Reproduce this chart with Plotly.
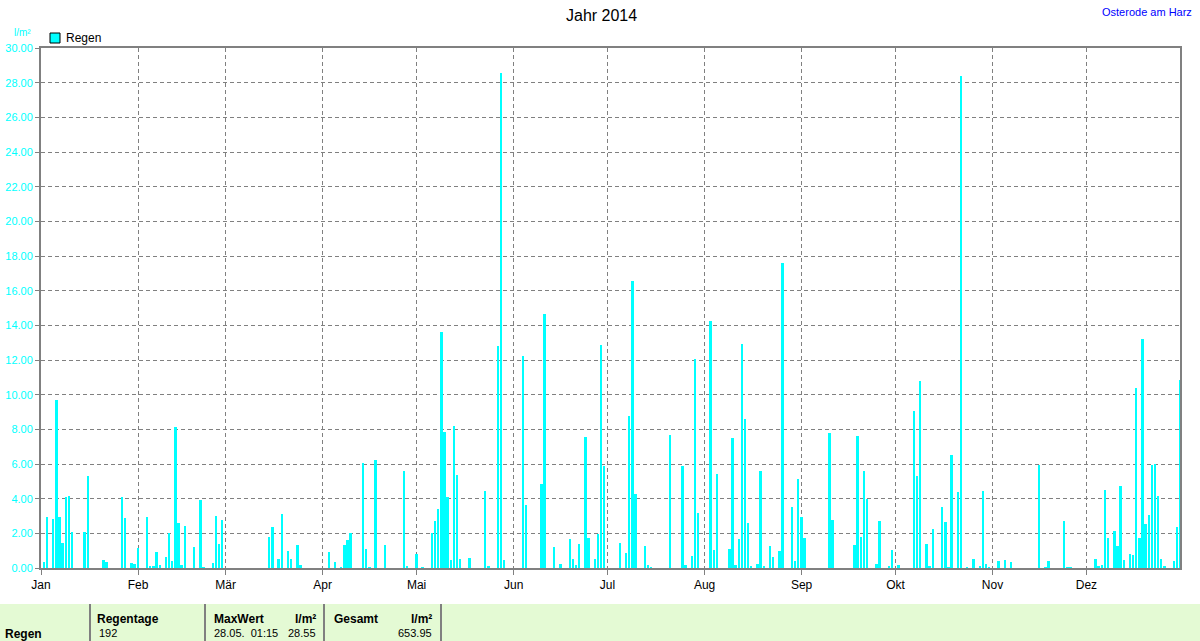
import plotly.graph_objects as go

# ---------------- data (daily rain, l/m², 2014) ----------------
months = ["Jan", "Feb", "Mär", "Apr", "Mai", "Jun", "Jul", "Aug", "Sep", "Okt", "Nov", "Dez"]

jan = [0.33, 2.92, 0, 2.81, 9.67, 2.92, 1.42, 4.08, 4.13, 2.06,
       0, 0, 0, 2.06, 5.29, 0, 0, 0, 0, 0.44,
       0.33, 0, 0, 0, 0, 4.08, 2.87, 0, 0.27, 0.21,
       1.13]
feb = [0, 0, 2.92, 0.1, 0.1, 0.9, 0.15, 0, 0.62, 2.0,
       0.38, 8.12, 2.58, 0.15, 2.4, 0, 0, 1.19, 0, 3.9,
       0.05, 0, 0, 0.27, 2.98, 1.37, 2.75, 0]
mar = [0, 0, 0, 0, 0, 0, 0, 0, 0, 0,
       0, 0, 0, 1.77, 2.35, 0, 0.5, 3.1, 0, 0.96,
       0.5, 0, 1.31, 0.15, 0, 0, 0, 0, 0, 0,
       0]
apr = [0, 0.9, 0, 0.33, 0, 0.05, 1.31, 1.6, 2.0, 0,
       0, 0, 6.04, 1.08, 0.05, 0, 6.21, 0, 0, 1.31,
       0, 0, 0, 0, 0, 5.62, 0.13, 0, 0, 0.83]
mai = [0, 0.05, 0, 0, 2.04, 2.73, 3.42, 13.63, 7.87, 4.12,
       0.48, 8.21, 5.38, 0.54, 0, 0, 0.6, 0, 0, 0,
       0, 4.46, 0.08, 0, 0, 12.83, 28.55, 0.48, 0, 0,
       0]
jun = [0, 0, 12.25, 3.65, 0, 0, 0, 0, 4.87, 14.67,
       0, 0, 1.23, 0, 0.25, 0, 0, 1.69, 0.54, 0.19,
       1.4, 0, 7.58, 1.75, 0, 0.54, 1.98, 12.88, 5.9, 0]
jul = [0, 0, 0, 1.46, 0, 0.88, 8.79, 16.56, 4.29, 0,
       0, 1.29, 0.19, 0.05, 0, 0, 0, 0, 0, 7.69,
       0, 0, 0, 5.9, 0.19, 0, 0.71, 12.08, 3.19, 0,
       0]
aug = [0, 14.27, 1.06, 5.44, 0, 0, 0, 1.12, 7.52, 0.19,
       1.69, 12.94, 8.62, 2.62, 0.08, 0, 0.25, 5.62, 0.08, 0,
       1.29, 0.65, 0, 1.0, 17.6, 0, 0, 3.54, 0.42, 5.15,
       2.96]
sep = [1.75, 0, 0, 0, 0, 0, 0, 0, 7.81, 2.79,
       0, 0, 0, 0, 0, 0, 1.35, 7.63, 1.81, 5.62,
       4.0, 0, 0, 0.25, 2.73, 0, 0, 0.08, 1.06, 0]
okt = [0.19, 0, 0, 0, 0, 9.08, 5.33, 10.81, 0, 1.4,
       0.13, 2.27, 0, 0, 3.54, 2.67, 0.05, 6.54, 0, 4.4,
       28.39, 0, 0.05, 0, 0.54, 0, 0.13, 4.46, 0.25, 0.05,
       0]
nov = [0, 0.42, 0, 0.48, 0, 0.37, 0, 0, 0, 0,
       0, 0, 0, 0, 5.96, 0, 0.05, 0.42, 0, 0,
       0, 0, 2.73, 0.05, 0.05, 0, 0, 0, 0, 0]
dez = [0, 0, 0.54, 0.08, 0.19, 4.52, 1.75, 0, 2.15, 1.29,
       4.75, 0.48, 0, 0.83, 0.77, 10.4, 1.75, 13.23, 2.56, 3.08,
       5.96, 6.02, 4.17, 0.54, 0.13, 0, 0, 0.42, 2.38, 10.87,
       0]

y_ticks = [0, 2, 4, 6, 8, 10, 12, 14, 16, 18, 20, 22, 24, 26, 28, 30]

table_header = ["Regentage", "MaxWert", "l/m²", "Gesamt", "l/m²"]
table_row = ["Regen", "192", "28.05.&nbsp;&nbsp;01:15", "28.55", "653.95"]

# ---------------- build ----------------
month_lists = [jan, feb, mar, apr, mai, jun, jul, aug, sep, okt, nov, dez]
rain = [v for m in month_lists for v in m]
doy = list(range(1, len(rain) + 1))          # bar drawn at end of its day
month_start = []
acc = 0
for m in month_lists:
    month_start.append(acc)
    acc += len(m)

W, H = 1200, 641
L, R, T, B = 41, 1180, 48, 568


def px(x):
    return (x - L) / (R - L)


def py(y):
    return (B - y) / (B - T)


FONT = "Liberation Sans, Arial, sans-serif"
GRAY = "#808080"
CYAN = "#00ffff"

fig = go.Figure()
fig.add_trace(go.Bar(x=doy, y=rain, width=0.6, marker=dict(color=CYAN, line=dict(width=0)),
                     name="Regen", showlegend=False))

fig.update_layout(
    width=W, height=H,
    margin=dict(l=L, r=W - R, t=T, b=H - B, pad=0, autoexpand=False),
    paper_bgcolor="white", plot_bgcolor="white",
    font=dict(family=FONT, size=12, color="black"),
    bargap=0,
    xaxis=dict(range=[0, 363.9], tickvals=month_start, ticktext=months,
               showgrid=True, gridcolor=GRAY, gridwidth=1, griddash="4px,3px",
               ticks="outside", ticklen=5, tickcolor=GRAY, tickwidth=1,
               showline=True, linecolor=GRAY, linewidth=2, mirror=True,
               zeroline=False, automargin=False, tickfont=dict(size=12, color="black")),
    yaxis=dict(range=[0, 30], tickvals=y_ticks, tickformat=".2f",
               showgrid=True, gridcolor=GRAY, gridwidth=1, griddash="4px,3px",
               ticks="outside", ticklen=4, tickcolor=GRAY, tickwidth=1,
               showline=True, linecolor=GRAY, linewidth=2, mirror=True,
               zeroline=False, automargin=False, tickfont=dict(size=11, color=CYAN)),
)

shapes = []
ann = []

# title and top texts
ann.append(dict(x=px(601), y=py(15), xref="paper", yref="paper", text="Jahr 2014",
                showarrow=False, font=dict(size=16, color="black"), xanchor="center", yanchor="middle"))
ann.append(dict(x=px(1147), y=py(12), xref="paper", yref="paper", text="Osterode am Harz",
                showarrow=False, font=dict(size=11, color="#0000ff"), xanchor="center", yanchor="middle"))
ann.append(dict(x=px(12), y=py(32), xref="paper", yref="paper", text="l/m²",
                showarrow=False, font=dict(size=10, color=CYAN), xanchor="left", yanchor="middle"))

# legend
shapes.append(dict(type="rect", xref="paper", yref="paper", x0=px(50), x1=px(60), y0=py(43), y1=py(33),
                   fillcolor=CYAN, line=dict(color="black", width=1)))
ann.append(dict(x=px(64), y=py(38), xref="paper", yref="paper", text="Regen",
                showarrow=False, font=dict(size=12, color="black"), xanchor="left", yanchor="middle"))

# bottom table
shapes.append(dict(type="rect", xref="paper", yref="paper", x0=px(0), x1=px(1200), y0=py(641), y1=py(604),
                   fillcolor="#e4fad4", line=dict(width=0), layer="below"))
for sx in [90, 205, 324, 441]:
    shapes.append(dict(type="line", xref="paper", yref="paper", x0=px(sx), x1=px(sx), y0=py(641), y1=py(604),
                       line=dict(color=GRAY, width=2)))

bold = dict(size=12, color="black", family=FONT)
hdr_pos = [(95, "left"), (212, "left"), (318, "right"), (332, "left"), (434, "right")]
for (hx, anc), txt in zip(hdr_pos, table_header):
    ann.append(dict(x=px(hx), y=py(619), xref="paper", yref="paper", text="<b>" + txt + "</b>",
                    showarrow=False, font=bold, xanchor=anc, yanchor="middle"))
row_pos = [(3, "left"), (97, "left"), (212, "left"), (318, "right"), (434, "right")]
for i, ((rx, anc), txt) in enumerate(zip(row_pos, table_row)):
    t = "<b>" + txt + "</b>" if i == 0 else txt
    ann.append(dict(x=px(rx), y=py(634 if i == 0 else 633), xref="paper", yref="paper", text=t,
                    showarrow=False, font=dict(size=12 if i == 0 else 11, color="black"),
                    xanchor=anc, yanchor="middle"))

fig.update_layout(shapes=shapes, annotations=ann)
fig.write_html("out.html", config={"displayModeBar": False},
               post_script="document.body.style.margin='0px';document.body.style.overflow='hidden';")
